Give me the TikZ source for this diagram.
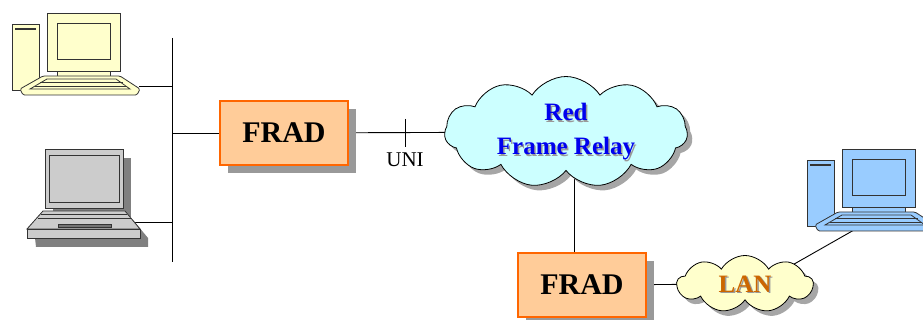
\documentclass[tikz,border=0pt]{standalone}
\usepackage{fontspec}
\setmainfont{Liberation Serif}
\usetikzlibrary{shapes.symbols,shadows,backgrounds}

\definecolor{fradfill}{HTML}{FFCC99}
\definecolor{fradline}{HTML}{FF6600}
\definecolor{netfill}{HTML}{CCFFFF}
\definecolor{netblue}{HTML}{0000EE}
\definecolor{lanfill}{HTML}{FFFFCC}
\definecolor{lantext}{HTML}{CC6600}
\definecolor{pcyellow}{HTML}{FFFFCC}
\definecolor{pcblue}{HTML}{99CCFF}
\definecolor{lapgray}{HTML}{CCCCCC}
\definecolor{pcedge}{HTML}{333333}

\newcommand{\fradfont}{\fontsize{30}{36}\selectfont\bfseries}
\newcommand{\netfont}{\fontsize{25}{34}\selectfont\bfseries}

% desktop computer: #1 shift, #2 fill colour, #3 name prefix
\newcommand{\deskpc}[3]{%
  \begin{scope}[shift={#1}]
    \colorlet{pcfill}{#2}
    \filldraw[pcpart] (12,24) rectangle (39,90);
    \draw[pcedge,line width=1.8pt] (15,29) -- (36,29);
    \filldraw[pcpart] (57,68) rectangle (110,78);
    \filldraw[pcpart] (47,13) rectangle (120,71);
    \filldraw[pcpart] (57,23) rectangle (110,59);
    \filldraw[pcpart,rounded corners=1.5pt] (43,76) -- (120,76) -- (140,89) -- (137,95) -- (23,95) -- (20,89) -- cycle;
    \draw[pcpart] (47,79) -- (116,79) -- (130,89) -- (30,89) -- cycle;
    \draw[pcpart] (40,82.5) -- (123,82.5);
    \draw[pcpart] (35,86) -- (127,86);
    \coordinate (#3side) at (139,86);
    \coordinate (#3front) at (59,94);
  \end{scope}}

\begin{document}
\begin{tikzpicture}[x=1pt,y=-1pt,
    link/.style={draw=black,line width=0.9pt},
    pcpart/.style={draw=pcedge,fill=pcfill,line width=0.8pt},
    frad/.style={draw=fradline,line width=2.5pt,fill=fradfill,
      minimum width=128pt,minimum height=64pt,font=\fradfont,
      general shadow={fill=black!40,shadow xshift=8pt,shadow yshift=-8pt}},
    netcloud/.style={cloud,draw=black,line width=0.8pt,cloud ignores aspect,
      inner sep=0pt,general shadow={fill=black!35,shadow xshift=5pt,shadow yshift=-5pt}},
    shadowtext/.style={text=black!40,align=center}]
  \useasboundingbox (0,0) rectangle (923,320);

  % computers on the left, hanging off the bus
  \deskpc{(0,0)}{pcyellow}{pcA}

  % laptop
  \fill[black!50] (53,158) rectangle (131,217);
  \fill[black!50] (51,220) -- (133,220) -- (148,238) -- (148,247) -- (36,247) -- (35,238) -- cycle;
  \colorlet{pcfill}{lapgray}
  \filldraw[pcpart] (45,149) rectangle (123,208);
  \filldraw[pcpart] (49,155) rectangle (119,202);
  \filldraw[pcpart] (43,211) -- (125,211) -- (140,229) -- (27,229) -- cycle;
  \filldraw[pcpart] (27,229) rectangle (140,238);
  \draw[pcpart] (41,214) -- (127,214);
  \draw[pcpart] (38,218) -- (131,218);
  \filldraw[pcedge,fill=black!55,line width=0.6pt] (58,224) rectangle (111,227);
  \coordinate (lapA) at (133,222);

  % bus
  \coordinate (busTop) at (172,38);
  \coordinate (busBot) at (172,262);
  \coordinate (busA) at (172,86);
  \coordinate (busB) at (172,222);
  \coordinate (busF) at (172,133);

  % access devices and clouds
  \node[frad] (fradA) at (284,133) {FRAD};
  \node[frad] (fradB) at (582,285) {FRAD};
  \node[netcloud,fill=netfill,cloud puffs=11,cloud puff arc=115,
    minimum width=243pt,minimum height=111pt] (frnet) at (566,132) {};
  \node[shadowtext,font=\netfont] at ([shift={(1.5pt,-1.5pt)}]frnet.center) {Red\\Frame Relay};
  \node[text=netblue,align=center,font=\netfont] (frlbl) at (frnet.center) {Red\\Frame Relay};
  \node[netcloud,fill=lanfill,cloud puffs=9,cloud puff arc=120,
    minimum width=136pt,minimum height=57pt] (lan) at (745,284) {};
  \node[shadowtext,font=\netfont] at ([shift={(1.5pt,-1.5pt)}]lan.center) {LAN};
  \node[text=lantext,font=\netfont] (lanlbl) at (lan.center) {LAN};

  % remote desktop
  \deskpc{(795,136)}{pcblue}{pcB}

  % UNI mark
  \coordinate (uni) at (405,133);
  \node[font=\fontsize{21}{24}\selectfont] (unilbl) at (405,160) {UNI};

  \begin{scope}[on background layer]
    \draw[link] (busTop) -- (busBot);
    \draw[link] (pcAside) -- (busA);
    \draw[link] (lapA) -- (busB);
    \draw[link] (busF) -- (fradA.west);
    \draw[link] (fradA.center) -- (frnet.center);
    \draw[link] ([xshift=-8pt]fradB.center) -- ([xshift=-8pt]fradB.center |- frnet.center);
    \draw[link] (fradB.center) -- (lan.center);
    \draw[link] ([yshift=-8pt]lan.center) -- (pcBfront);
  \end{scope}
  \draw[link] ([yshift=14pt]uni) -- ([yshift=-14pt]uni);
\end{tikzpicture}
\end{document}
